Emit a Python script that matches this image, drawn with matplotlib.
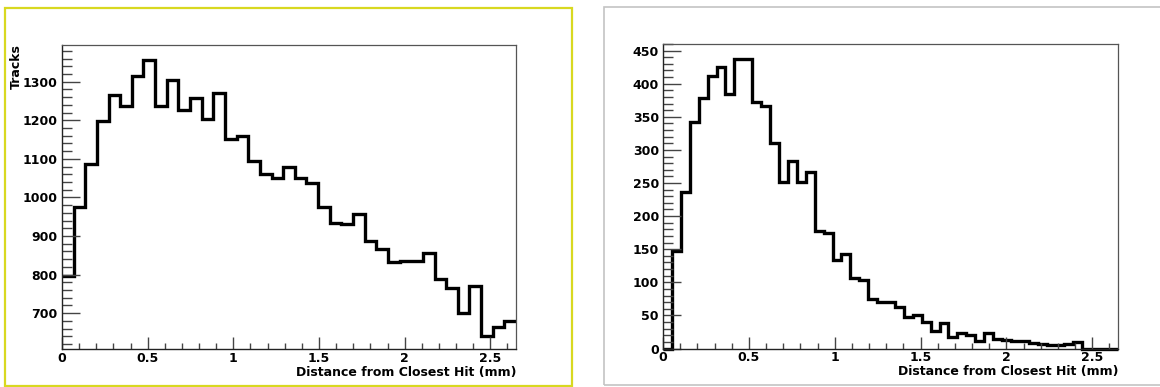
import numpy as np
import matplotlib
matplotlib.use("Agg")
import matplotlib.pyplot as plt
from matplotlib.patches import Rectangle
from matplotlib.ticker import MultipleLocator

# distance histograms (counts per bin)
x_max = 2.65
tracks_all = [795, 976, 1086, 1199, 1265, 1238, 1315, 1357, 1236, 1305,
              1227, 1257, 1204, 1270, 1152, 1159, 1095, 1061, 1051, 1079,
              1050, 1038, 976, 934, 931, 957, 888, 867, 833, 836,
              834, 857, 788, 765, 700, 771, 641, 664, 679]
tracks_sel = [0, 148, 236, 342, 379, 411, 426, 384, 437, 437,
              373, 367, 311, 251, 283, 251, 266, 177, 174, 133,
              143, 107, 104, 75, 71, 71, 62, 47, 51, 40,
              26, 38, 18, 23, 21, 12, 23, 14, 13, 12,
              11, 9, 7, 5, 5, 7, 10, 0, 0, 0, 0]
x_ticks = [0, 0.5, 1, 1.5, 2, 2.5]
x_tick_labels = ["0", "0.5", "1", "1.5", "2", "2.5"]
x_title = "Distance from Closest Hit (mm)"

plt.rcParams["font.family"] = "DejaVu Sans"
plt.rcParams["font.weight"] = "bold"

W, H = 1160, 387
fig = plt.figure(figsize=(W / 100, H / 100), dpi=100)
fig.patch.set_facecolor("white")

# panel borders
fig.patches.append(Rectangle((5 / W, 1 - 385.5 / H), 567 / W, 378 / H,
                             transform=fig.transFigure, fill=False,
                             edgecolor="#d8d820", linewidth=1.6))
fig.patches.append(Rectangle((604 / W, 1 - 385 / H), 600 / W, 378 / H,
                             transform=fig.transFigure, fill=False,
                             edgecolor="#c4c4c4", linewidth=1.2))


def setup(ax, ylim, ymajor, yminor):
    ax.set_xlim(0, x_max)
    ax.set_ylim(*ylim)
    ax.set_xticks(x_ticks)
    ax.set_xticklabels(x_tick_labels)
    ax.xaxis.set_minor_locator(MultipleLocator(0.1))
    ax.yaxis.set_major_locator(MultipleLocator(ymajor))
    ax.yaxis.set_minor_locator(MultipleLocator(yminor))
    ax.tick_params(axis="both", which="both", direction="in",
                   colors="#444444", labelcolor="black", labelsize=9)
    ax.tick_params(axis="y", which="major", length=13, width=1, pad=3)
    ax.tick_params(axis="y", which="minor", length=7, width=1)
    ax.tick_params(axis="x", which="major", length=9, width=1, pad=2)
    ax.tick_params(axis="x", which="minor", length=4.5, width=1)
    for s in ["top", "right"]:
        ax.spines[s].set_color("#555555")
        ax.spines[s].set_linewidth(0.9)
    for s in ["left", "bottom"]:
        ax.spines[s].set_color("#222222")
        ax.spines[s].set_linewidth(1.0)
    for lab in ax.get_xticklabels() + ax.get_yticklabels():
        lab.set_fontweight("bold")
    ax.text(1.0, -0.077, x_title, transform=ax.transAxes, ha="right",
            va="center", fontsize=9, fontweight="bold")


# left: all tracks
ax1 = fig.add_axes([62 / W, 1 - 349 / H, 454 / W, 304 / H])
edges1 = np.linspace(0, x_max, len(tracks_all) + 1)
ax1.stairs(tracks_all, edges1, baseline=None, color="black", linewidth=2.4,
           clip_on=False)
setup(ax1, (607, 1395), 100, 20)
fig.text(16 / W, 1 - 44 / H, "Tracks", rotation=90, ha="center", va="top",
         fontsize=9, fontweight="bold")

# right: selected tracks
ax2 = fig.add_axes([663 / W, 1 - 348.5 / H, 455 / W, 304.5 / H])
edges2 = np.linspace(0, x_max, len(tracks_sel) + 1)
ax2.stairs(tracks_sel, edges2, baseline=None, color="black", linewidth=2.4,
           clip_on=False)
setup(ax2, (0, 460), 50, 10)

fig.savefig("out.png", dpi=100, facecolor="white")
